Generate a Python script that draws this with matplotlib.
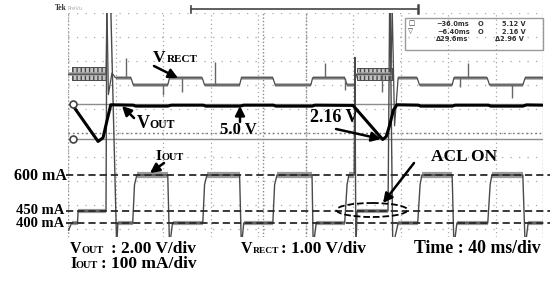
import matplotlib.pyplot as plt
from matplotlib.patches import Ellipse, Rectangle

# scope settings: 40 ms/div over 10 div, volts (or mA) per div and ground position in div
T_DIV = 40.0
VOUT_DIV, VOUT_POS = 2.0, -1.35
VRECT_DIV, VRECT_POS = 1.0, -0.7
IOUT_DIV, IOUT_POS = 100.0, -7.75

# traces: time (ms from left edge), value
vout_t = [4, 25.3, 29.5, 33, 36, 55, 57, 84, 87, 114, 116, 145, 148, 173, 175, 205.5, 208,
          240, 265, 268, 271, 274, 277, 295, 297, 323.5, 326, 354, 356, 383, 386, 400]
vout_v = [5.0, 2.0, 2.3, 3.8, 5.05, 5.02, 4.94, 4.94, 5.02, 5.02, 4.94, 4.94, 5.02, 5.02, 4.94, 4.94, 5.02,
          5.0, 2.16, 2.4, 3.4, 4.6, 5.05, 5.02, 4.94, 4.94, 5.02, 5.02, 4.94, 4.94, 5.04, 5.02]

iout_t = [0.5, 3, 8, 8.5, 32, 32.8, 35.5, 41, 42, 54.5, 56, 58, 84, 85.5, 88, 113.5, 115, 117,
          144.5, 146, 148, 172.5, 174, 176, 205.5, 206.5, 209, 233, 235, 236.5, 241, 241.6, 242.4,
          243.5, 269.5, 271, 273.5, 278, 294.5, 296.5, 298, 323.5, 325, 327.5, 353.5, 355.5, 357,
          383, 385, 387.5, 400]
iout_ma = [370, 400, 400, 450, 450, 1400, 1400, 300, 400, 400, 560, 600, 600, 300, 400, 400, 560, 600,
           600, 300, 400, 400, 560, 600, 600, 300, 400, 400, 560, 600, 600, 1090, 300,
           450, 450, 1400, 300, 400, 400, 560, 600, 600, 300, 400, 400, 560, 600,
           600, 300, 400, 400]

vrect_t = [0, 32, 32.8, 34, 37, 40, 53, 55, 84, 85.5, 113, 115, 144.5, 146, 172.5, 174.5, 204.5, 206,
           233, 235, 241, 243, 272, 273, 275, 278, 294, 296, 323.5, 325, 353, 355, 383, 385, 400]
vrect_v = [3.15, 3.15, 6.0, 2.3, 3.2, 3.0, 3.0, 2.7, 2.7, 3.0, 3.0, 2.7, 2.7, 3.0, 3.0, 2.7, 2.7, 3.0,
           3.0, 2.7, 2.7, 3.15, 3.15, 6.0, 1.0, 3.0, 3.0, 2.7, 2.7, 3.0, 3.0, 2.7, 2.7, 3.0, 3.0]

# noisy VRECT blocks (start, end, low, high)
noisy_t0 = [3.5, 243]
noisy_t1 = [32, 272.5]
noisy_lo = [2.9, 2.92]
noisy_hi = [3.45, 3.41]

# VRECT glitches (time, from, to)
spike_t = [48.8, 80, 96, 123.8, 216.4, 233.3, 264.4, 330, 336.8, 373.9]
spike_from = [3.0, 2.7, 3.0, 2.7, 3.0, 3.0, 3.15, 3.0, 3.0, 2.7]
spike_to = [3.82, 2.3, 2.41, 3.66, 3.62, 2.49, 2.41, 2.6, 3.62, 2.16]

ref_ma = [600, 450, 400]
ref_labels = ["600 mA", "450 mA", "400 mA"]
cursor_v = [5.12, 2.16]


def div(vals, per, pos):
    return [v / per + pos for v in vals]


fig = plt.figure(figsize=(5.5, 2.82), dpi=100)
ax = fig.add_axes([68 / 550, 45 / 282, 475 / 550, 224 / 282])
ax.set_xlim(0, 10 * T_DIV)
ax.set_ylim(-4.333, 5.0)
ax.axis("off")

# graticule
for k in range(-4, 6):
    ax.axhline(k, color="#a8a8a8", lw=0.9, ls=(0, (1, 5.8)))
for k in range(11):
    ax.axvline(k * T_DIV, color="#a8a8a8", lw=0.9, ls=(0, (1, 2.4)))
ax.axhline(0, color="#777777", lw=1.0, ls=(0, (1.2, 2.0)))
ax.axvline(5 * T_DIV, color="#888888", lw=1.0, ls=(0, (1, 1.5)))
ax.axvline(164, color="#888888", lw=1.0, ls=(0, (1, 1.5)))
ax.axvline(0, color="#999999", lw=1.0, ls=(0, (1, 1.5)))
ax.axvline(10 * T_DIV, color="#999999", lw=1.0, ls=(0, (1, 1.5)))

# horizontal cursors on VOUT
for c in div(cursor_v, VOUT_DIV, VOUT_POS):
    ax.axhline(c, color="#8c8c8c", lw=1.0)
for c in div(cursor_v, VOUT_DIV, VOUT_POS):
    ax.plot(4, c, marker="o", ms=5, mfc="white", mec="#444444", mew=1.2, zorder=6)

# IOUT
iy = div(iout_ma, IOUT_DIV, IOUT_POS)
for i in range(len(iy) - 1):
    if iout_ma[i] == iout_ma[i + 1] and iout_ma[i] in ref_ma:
        w = 4.5 if iout_ma[i] == 600 else 3.0
        ax.plot(iout_t[i:i + 2], iy[i:i + 2], color="#9a9a9a", lw=w, solid_capstyle="butt")
ax.plot(iout_t, iy, color="#4a4a4a", lw=1.0)

# VRECT
ry = div(vrect_v, VRECT_DIV, VRECT_POS)
for i in range(len(ry) - 1):
    if vrect_v[i] == vrect_v[i + 1]:
        ax.plot(vrect_t[i:i + 2], ry[i:i + 2], color="#a5a5a5", lw=2.6, solid_capstyle="butt")
ax.plot(vrect_t, ry, color="#4a4a4a", lw=0.9)
for t0, t1, lo, hi in zip(noisy_t0, noisy_t1, noisy_lo, noisy_hi):
    ax.fill_between([t0, t1], lo + VRECT_POS, hi + VRECT_POS, facecolor="#c4c4c4",
                    edgecolor="#4a4a4a", hatch="||||", lw=0.7)
ax.vlines(spike_t, div(spike_from, VRECT_DIV, VRECT_POS), div(spike_to, VRECT_DIV, VRECT_POS),
          color="#666666", lw=1.0)

# VOUT
ax.plot(vout_t, div(vout_v, VOUT_DIV, VOUT_POS), color="black", lw=2.2)

# reference levels
for ma in ref_ma:
    y = ma / IOUT_DIV + IOUT_POS
    ax.plot([-2, 406], [y, y], color="#2a2a2a", lw=1.3, ls=(0, (4, 2.2)), clip_on=False)

# overlay in pixel units for labels
ov = fig.add_axes([0, 0, 1, 1], zorder=5)
ov.set_xlim(0, 550)
ov.set_ylim(282, 0)
ov.axis("off")
ov.patch.set_alpha(0)

kw = dict(family="Liberation Serif", weight="bold", color="black", va="baseline")
ov.text(153, 62, "V", size=12.5, **kw)
ov.text(166.5, 62, "RECT", size=8, **kw)
ov.text(137, 128, "V", size=13, **kw)
ov.text(149.5, 128, "OUT", size=8.5, **kw)
ov.text(220, 134, "5.0 V", size=12, **kw)
ov.text(310, 122, "2.16 V", size=13, **kw)
ov.text(156, 160, "I", size=11, **kw)
ov.text(161.5, 160, "OUT", size=7.5, **kw)
for lab, yb, xr, sz in zip(ref_labels, [180, 213.5, 227], [67, 64, 64], [11.5, 10.5, 10.5]):
    ov.text(xr, yb, lab, size=sz, ha="right", **kw)
ov.text(431, 161, "ACL ON", size=12.5, **kw)

ov.text(70, 253, "V", size=11.5, **kw)
ov.text(82, 253, "OUT", size=7.5, **kw)
ov.text(111, 253, ": 2.00 V/div", size=12.5, **kw)
ov.text(241, 253, "V", size=11.5, **kw)
ov.text(253, 253, "RECT", size=6.8, **kw)
ov.text(281, 253, ": 1.00 V/div", size=12.5, **kw)
ov.text(414, 253, "Time : 40 ms/div", size=12.8, **kw)
ov.text(70, 268, "I", size=11.5, **kw)
ov.text(75.5, 268, "OUT", size=7.5, **kw)
ov.text(101, 268, ": 100 mA/div", size=12.5, **kw)

arrows = [((154, 66), (178, 78)), ((134, 118), (122, 106)), ((240, 122), (240, 106)),
          ((336, 129), (381, 139)), ((164, 163), (150, 173)), ((414, 163), (383, 203))]
for tail, head in arrows:
    ov.annotate("", xy=head, xytext=tail,
                arrowprops=dict(arrowstyle="-|>,head_length=0.55,head_width=0.28", color="black",
                                lw=1.8, shrinkA=0, shrinkB=0))
ov.add_patch(Ellipse((372, 210), 71, 14, fill=False, ls="--", lw=1.3, ec="black"))

# cursor readout
ov.add_patch(Rectangle((405, 18), 138, 32, fill=False, ec="#9a9a9a", lw=1.0))
bk = dict(family="DejaVu Sans", weight="bold", color="#333333", size=4.8, va="center")
ov.text(408, 23.5, "\u25a1", **bk)
ov.text(408, 31, "\u25bd", **bk)
ov.text(436, 24, "\u221236.0ms", **bk)
ov.text(437, 31.5, "\u22126.40ms", **bk)
ov.text(436, 39, "\u039429.6ms", **bk)
ov.text(478, 24, "O", **bk)
ov.text(478, 31.5, "O", **bk)
ov.text(502, 24, "5.12 V", **bk)
ov.text(502, 31.5, "2.16 V", **bk)
ov.text(495, 39, "\u03942.96 V", **bk)

# top status line
ov.text(55, 10, "Tek", family="Liberation Serif", weight="bold", size=5.5, color="#333333", va="baseline")
ov.text(67, 10, "PreVu", family="DejaVu Sans", size=3.8, color="#aaaaaa", va="baseline")
ov.plot([191, 418], [9, 9], color="#444444", lw=1.2)
ov.plot([191, 191], [5.5, 12.5], color="#444444", lw=1.2)
ov.plot([418, 418], [4.5, 13], color="#444444", lw=1.8)

fig.savefig("out.png", dpi=100)
